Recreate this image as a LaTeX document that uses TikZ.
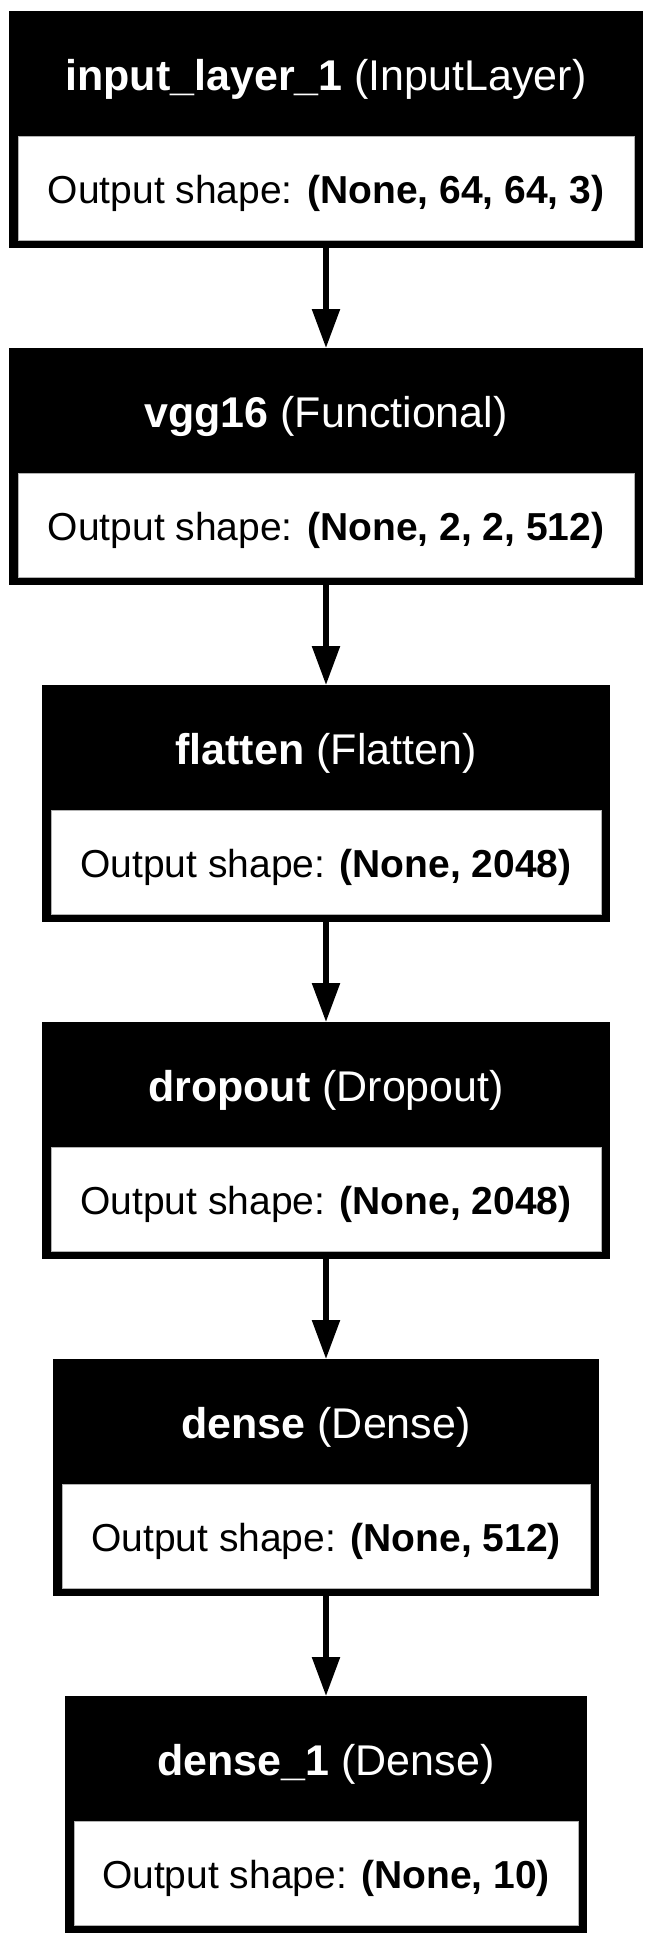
\documentclass[tikz,border=0pt]{standalone}
\usepackage{fontspec}
\setmainfont{Liberation Sans}
\usetikzlibrary{arrows.meta}
\tikzset{
  layer/.style={fill=black, draw=none, minimum height=237pt, inner sep=0pt, anchor=north},
  shapecell/.style={fill=white, draw=gray!60, line width=0.8pt, minimum height=104pt, inner sep=0pt, anchor=north},
  headtext/.style={text=white, font=\fontsize{43}{52}\selectfont, anchor=base, inner sep=0pt},
  shapetext/.style={font=\fontsize{39}{47}\selectfont, anchor=base, inner sep=0pt},
  flow/.style={line width=5.5pt, -{Triangle[length=39pt,width=27pt]}}
}
\begin{document}
\begin{tikzpicture}[x=1pt,y=-1pt]
            \useasboundingbox (0,0) rectangle (653,1947);
            \node[layer, minimum width=634pt] (input) at (326,11) {};
            \node[shapecell, minimum width=616pt] (input-cell) at (326,136) {};
            \node[headtext] (input-name) at (326,90) {\textbf{input\_layer\_1} (InputLayer)};
            \node[shapetext] (input-shape) at (326,203) {Output shape: \textbf{(None, 64, 64, 3)}};
            \node[layer, minimum width=634pt] (vgg) at (326,348) {};
            \node[shapecell, minimum width=616pt] (vgg-cell) at (326,473) {};
            \node[headtext] (vgg-name) at (326,427) {\textbf{vgg16} (Functional)};
            \node[shapetext] (vgg-shape) at (326,540) {Output shape: \textbf{(None, 2, 2, 512)}};
            \node[layer, minimum width=568pt] (flatten) at (326,685) {};
            \node[shapecell, minimum width=550pt] (flatten-cell) at (326,810) {};
            \node[headtext] (flatten-name) at (326,764) {\textbf{flatten} (Flatten)};
            \node[shapetext] (flatten-shape) at (326,877) {Output shape: \textbf{(None, 2048)}};
            \node[layer, minimum width=568pt] (dropout) at (326,1022) {};
            \node[shapecell, minimum width=550pt] (dropout-cell) at (326,1147) {};
            \node[headtext] (dropout-name) at (326,1101) {\textbf{dropout} (Dropout)};
            \node[shapetext] (dropout-shape) at (326,1214) {Output shape: \textbf{(None, 2048)}};
            \node[layer, minimum width=546pt] (dense) at (326,1359) {};
            \node[shapecell, minimum width=528pt] (dense-cell) at (326,1484) {};
            \node[headtext] (dense-name) at (326,1438) {\textbf{dense} (Dense)};
            \node[shapetext] (dense-shape) at (326,1551) {Output shape: \textbf{(None, 512)}};
            \node[layer, minimum width=522pt] (dense1) at (326,1696) {};
            \node[shapecell, minimum width=504pt] (dense1-cell) at (326,1821) {};
            \node[headtext] (dense1-name) at (326,1775) {\textbf{dense\_1} (Dense)};
            \node[shapetext] (dense1-shape) at (326,1888) {Output shape: \textbf{(None, 10)}};
            \draw[flow] (input.south) -- (vgg.north);
            \draw[flow] (vgg.south) -- (flatten.north);
            \draw[flow] (flatten.south) -- (dropout.north);
            \draw[flow] (dropout.south) -- (dense.north);
            \draw[flow] (dense.south) -- (dense1.north);
        \end{tikzpicture}
\end{document}
